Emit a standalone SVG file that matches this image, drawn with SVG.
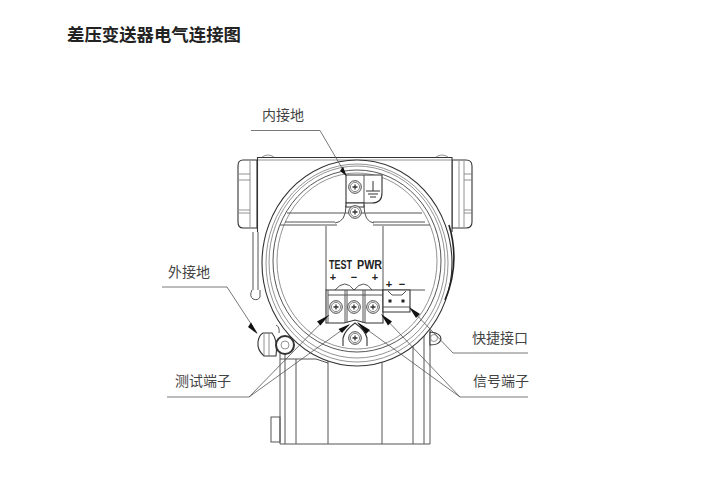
<svg xmlns="http://www.w3.org/2000/svg" width="715" height="481" viewBox="0 0 715 481">
<defs>
<style>
.l{fill:none;stroke:#555;stroke-width:1}
.t{fill:none;stroke:#777;stroke-width:.8}
.b{fill:#fff;stroke:#333;stroke-width:1.1}
.lead{fill:none;stroke:#555;stroke-width:.8}
.head{fill:#111;stroke:none}
.lab{font-family:"Noto Sans CJK SC","Noto Sans CJK JP",sans-serif;font-size:14px;fill:#444}
.term{font-family:"Liberation Sans",Arial,sans-serif;font-size:12px;font-weight:700;fill:#222;text-anchor:middle}
.sign{font-family:"Liberation Sans",Arial,sans-serif;font-size:11px;font-weight:700;fill:#222;text-anchor:middle}
.s1{fill:#fff;stroke:#444;stroke-width:1}
.s2{fill:none;stroke:#666;stroke-width:.8}
</style>
<g id="screw"><circle class="s1" r="6.3"/><circle class="s2" r="4.6"/><path d="M-2.500 0H2.500M0-2.500V2.500" fill="none" stroke="#333" stroke-width="1.300"/></g>
</defs>
<rect width="715" height="481" fill="#fff"/>
<text x="67" y="41" font-family="'Noto Sans CJK SC','Noto Sans CJK JP',sans-serif" font-size="17.400" font-weight="700" fill="#222">差压变送器电气连接图</text>

<g id="lower-body">
<path class="l" d="M280 350V444H430V330M285 350V444M296 359V444M328 359V444M382 359V444M413 345V444M424 330V444"/>
<rect class="l" x="271" y="417" width="9" height="25"/>
<path class="l" d="M280 359H316L328 363"/>
</g>

<g id="left-gland"><path class="b" d="M257 160H243Q238 160 238 166V222Q238 228 243 228H257Z"/><path class="t" d="M250 161V227M239 174H250M239 180H250M239 210H250M239 213H250"/></g>
<g id="right-gland"><path class="b" d="M452 160H466Q472 160 472 166V222Q472 228 466 228H452Z"/><path class="t" d="M459 161V227M464 161V227M464 174H472M464 180H472M464 210H472M464 213H472"/></g>

<g id="housing">
<path class="b" d="M257.500 232V157.500H452V232"/>
<path class="t" d="M258 160H452M262 157Q268 153 274 157M436 157Q442 153 448 157"/>
<path class="l" d="M253 232V290M258 232V290"/>
<path class="l" d="M252 290Q249 296 253 299Q258 301 260 297V290"/>
<ellipse class="b" cx="357" cy="263" rx="95" ry="103"/>
<ellipse class="t" cx="357" cy="263" rx="91" ry="99"/>
<ellipse class="t" cx="357" cy="262" rx="88" ry="96"/>
<ellipse class="l" cx="357" cy="261" rx="84" ry="91"/>
<ellipse class="t" cx="357" cy="261" rx="80" ry="88"/>
<path d="M449 225A95 103 0 0 1 445 300" fill="none" stroke="#222" stroke-width="1.600"/>
</g>

<g id="inner-plate">
<path class="l" d="M287 213H422M285 222H335M373 222H425M280 225H337M373 225H430"/>
<path class="l" d="M346 205Q346 222 335 223M364 205Q364 222 374 223"/>
<path class="l" d="M326 226V290M383 226V290M383 290H425"/>
</g>

<g id="ground-plate">
<path class="b" d="M346 175H382V193Q382 203 372 203H346Z"/>
<path class="l" d="M364 175V203"/>
<path class="b" d="M346 203H364V207H346Z"/>
<path d="M373 181V191M366 191H380M368 194H378M370 197H376" fill="none" stroke="#333" stroke-width="1"/>
<use href="#screw" x="355" y="187"/>
<use href="#screw" x="355" y="212"/>
</g>

<g id="terminal-labels">
<text class="term" x="340.500" y="268.500" textLength="23" lengthAdjust="spacingAndGlyphs">TEST</text>
<text class="term" x="369.500" y="268.500" textLength="25" lengthAdjust="spacingAndGlyphs">PWR</text>
<text class="sign" x="333" y="280.500">+</text>
<text class="sign" x="354" y="280.500">−</text>
<text class="sign" x="375" y="280.500">+</text>
<text class="sign" x="389" y="288">+</text>
<text class="sign" x="402" y="288">−</text>
<path class="l" d="M335 290Q345 278 354 290Q364 278 372 290"/>
</g>

<g id="terminal-block">
<path class="b" d="M326 290H383V323H366L355 320L344 323H326Z"/>
<path class="l" d="M328 290V323M345 290V323M347 290V323M363 290V323M365 290V323M328 295H382"/>
<use href="#screw" x="336" y="307"/>
<use href="#screw" x="354" y="307"/>
<use href="#screw" x="373" y="307"/>
</g>

<g id="quick-connector">
<path class="b" d="M383 290H410V312H383Z"/>
<path class="l" d="M383 307H410M388 291L392 295H402L406 291"/>
<rect x="388.500" y="299.500" width="3" height="3" fill="#222"/>
<rect x="401.500" y="299.500" width="3" height="3" fill="#222"/>
</g>

<g id="bottom-tab">
<path class="b" d="M343 346V338Q345 330 355 323Q365 330 367 338V346"/>
<use href="#screw" x="355" y="338"/>
</g>

<g id="external-ground">
<path class="b" d="M263 333H272Q278 340 276 356H264Q257 350 258 342Q259 335 263 333Z"/>
<path class="t" d="M264 334V356M269 333V356"/>
<circle cx="285" cy="345" r="9" fill="#fff" stroke="#333" stroke-width="2"/>
<circle class="t" cx="285" cy="345" r="4"/>
<path class="l" d="M279 333Q280 327 276 325"/>
</g>

<g id="right-lug">
<path class="b" d="M430 332Q441 333 441 339Q440 345 430 345Z"/>
<circle class="t" cx="434" cy="338" r="3.500"/>
</g>

<g id="connectors">
<path class="lead" d="M251 130.500H320L346 175"/>
<path class="lead" d="M162 287H227L257 333"/>
<path class="lead" d="M167 397H249L329 315M249 397L349 325"/>
<path class="lead" d="M528 397H460L382 315M460 397L358 323"/>
<path class="lead" d="M528 353H453L410 308"/>
<polygon class="head" points="346.500,176 340,171 343,166.500"/>
<polygon class="head" points="257.500,334 248,327 251,322.500"/>
<polygon class="head" points="329,315 320.500,325.500 317,321.500"/>
<polygon class="head" points="350,324 342,333 338.500,329"/>
<polygon class="head" points="381,314 392,321.500 388,325.500"/>
<polygon class="head" points="357,322 370,330 366,334"/>
<polygon class="head" points="409,307 420,314 416,318"/>
</g>

<g id="labels">
<text class="lab" x="262" y="120">内接地</text>
<text class="lab" x="168" y="277">外接地</text>
<text class="lab" x="175" y="386">测试端子</text>
<text class="lab" x="472" y="343">快捷接口</text>
<text class="lab" x="473" y="386">信号端子</text>
</g>
</svg>
